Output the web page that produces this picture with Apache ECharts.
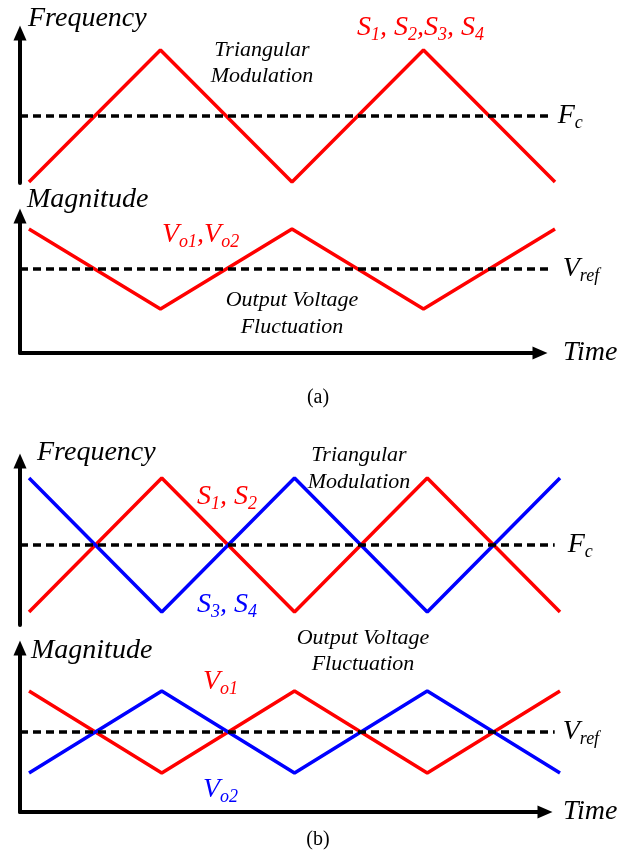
<!DOCTYPE html>
<html>
<head>
<meta charset="utf-8">
<script src="https://cdn.jsdelivr.net/npm/echarts@6/dist/echarts.min.js"></script>
<style>
  html, body { margin: 0; padding: 0; background: #ffffff; }
  #chart { width: 635px; height: 856px; }
</style>
</head>
<body>
<div id="chart"></div>
<script>
// time steps (half periods of the triangle carrier)
const time = [0, 1, 2, 3, 4];
// (a) single carrier
const freqA = [0, 1, 0, 1, 0];
const magA = [1, 0, 1, 0, 1];
// (b) interleaved carriers
const freqS12 = [0, 1, 0, 1, 0];
const freqS34 = [1, 0, 1, 0, 1];
const magVo1 = [1, 0, 1, 0, 1];
const magVo2 = [0, 1, 0, 1, 0];
// reference level (Fc / Vref)
const refLevel = 0.5;

const RED = '#ff0000';
const BLUE = '#0000ff';
const SERIF = "'Liberation Serif', 'Times New Roman', serif";

// data range on the time axis; the drawn arrow axis stops a bit short of the end
const tMin = -0.068, tMax = 4, dashEnd = 3.96;

const pairs = ys => time.map((t, i) => [t, ys[i]]);

const chart = echarts.init(document.getElementById('chart'), null, { renderer: 'canvas' });

// four panels
const panels = [
  { top: 33, height: 150, dataW: 535, axisW: 520 },
  { top: 216, height: 137, dataW: 535, axisW: 520 },
  { top: 461, height: 164, dataW: 540, axisW: 525 },
  { top: 648, height: 164, dataW: 540, axisW: 525 }
];
const yRanges = [[-0.008, 1.129], [-0.55, 1.1625], [-0.097, 1.127], [-0.476, 1.524]];

// grids 0..3 carry the data, grids 4..7 only draw the arrow axes
const grids = panels.map(p => ({ left: 20, top: p.top, width: p.dataW, height: p.height }))
  .concat(panels.map(p => ({ left: 20, top: p.top, width: p.axisW, height: p.height })));

const axisArrow = {
  show: true,
  onZero: false,
  symbol: ['none', 'triangle'],
  symbolSize: [13, 15],
  lineStyle: { color: '#000', width: 4 }
};
const bare = { axisTick: { show: false }, axisLabel: { show: false }, splitLine: { show: false } };

const xAxes = [];
const yAxes = [];
panels.forEach((p, i) => {
  xAxes.push(Object.assign({ type: 'value', gridIndex: i, min: tMin, max: tMax, show: false }, bare));
  yAxes.push(Object.assign({ type: 'value', gridIndex: i, min: yRanges[i][0], max: yRanges[i][1], show: false }, bare));
});
panels.forEach((p, i) => {
  const isMag = i % 2 === 1;
  xAxes.push(Object.assign({
    type: 'value', gridIndex: i + 4, min: 0, max: 1,
    show: isMag,
    axisLine: axisArrow,
    name: isMag ? 'Time' : '',
    nameLocation: 'end',
    nameGap: i === 1 ? 23 : 18,
    nameTextStyle: { fontFamily: SERIF, fontStyle: 'italic', fontSize: 28, color: '#000', verticalAlign: 'middle' }
  }, bare));
  yAxes.push(Object.assign({
    type: 'value', gridIndex: i + 4, min: 0, max: 1,
    axisLine: axisArrow
  }, bare));
});

const subRich = color => ({
  m: { fontFamily: SERIF, fontStyle: 'italic', fontSize: 28, color: color },
  s: { fontFamily: SERIF, fontStyle: 'italic', fontSize: 18, color: color, padding: [14, 0, 0, 0] }
});

const refLine = (label, dist) => ({
  silent: true,
  symbol: 'none',
  lineStyle: { color: '#000', width: 3.5, type: [8, 5] },
  label: { position: 'end', distance: dist, formatter: label, rich: subRich('#000') },
  data: [[{ coord: [tMin, refLevel] }, { coord: [dashEnd, refLevel] }]]
});

const lineSeries = (gi, ys, color, extra) => Object.assign({
  type: 'line', xAxisIndex: gi, yAxisIndex: gi,
  data: pairs(ys), symbol: 'none', silent: true,
  lineStyle: { color: color, width: 3.5 }
}, extra || {});

const series = [
  lineSeries(0, freqA, RED, { markLine: refLine('{m|F}{s|c}', 8) }),
  lineSeries(1, magA, RED, { markLine: refLine('{m|V}{s|ref}', 13) }),
  lineSeries(2, freqS12, RED, { markLine: refLine('{m|F}{s|c}', 13) }),
  lineSeries(2, freqS34, BLUE),
  lineSeries(3, magVo1, RED, { markLine: refLine('{m|V}{s|ref}', 8) }),
  lineSeries(3, magVo2, BLUE)
];

// text annotations
const txt = (x, y, text, opts) => ({
  type: 'text', x: x, y: y, silent: true,
  style: Object.assign({
    text: text, fill: '#000', font: 'italic 28px ' + SERIF,
    align: 'left', verticalAlign: 'middle'
  }, opts || {})
});
const richTxt = (x, y, text, color) => txt(x, y, text, { rich: subRich(color), fill: color });

const graphic = [
  txt(28, 19, 'Frequency'),
  txt(262, 63, 'Triangular\nModulation', { font: 'italic 22px ' + SERIF, align: 'center', lineHeight: 26 }),
  richTxt(357, 28, '{m|S}{s|1}{m|, S}{s|2}{m|,S}{s|3}{m|, S}{s|4}', RED),
  txt(27, 200, 'Magnitude'),
  richTxt(162, 235, '{m|V}{s|o1}{m|,V}{s|o2}', RED),
  txt(292, 314, 'Output Voltage\nFluctuation', { font: 'italic 22px ' + SERIF, align: 'center', lineHeight: 27 }),
  txt(318, 398, '(a)', { font: '20px ' + SERIF, align: 'center' }),

  txt(37, 453, 'Frequency'),
  richTxt(197, 497, '{m|S}{s|1}{m|, S}{s|2}', RED),
  richTxt(197, 605, '{m|S}{s|3}{m|, S}{s|4}', BLUE),
  txt(359, 469, 'Triangular\nModulation', { font: 'italic 22px ' + SERIF, align: 'center', lineHeight: 27 }),
  txt(31, 651, 'Magnitude'),
  richTxt(203, 682, '{m|V}{s|o1}', RED),
  richTxt(203, 790, '{m|V}{s|o2}', BLUE),
  txt(363, 651, 'Output Voltage\nFluctuation', { font: 'italic 22px ' + SERIF, align: 'center', lineHeight: 26 }),
  txt(318, 840, '(b)', { font: '20px ' + SERIF, align: 'center' })
];

chart.setOption({
  backgroundColor: '#ffffff',
  animation: false,
  grid: grids,
  xAxis: xAxes,
  yAxis: yAxes,
  series: series,
  graphic: graphic
});
</script>
</body>
</html>
